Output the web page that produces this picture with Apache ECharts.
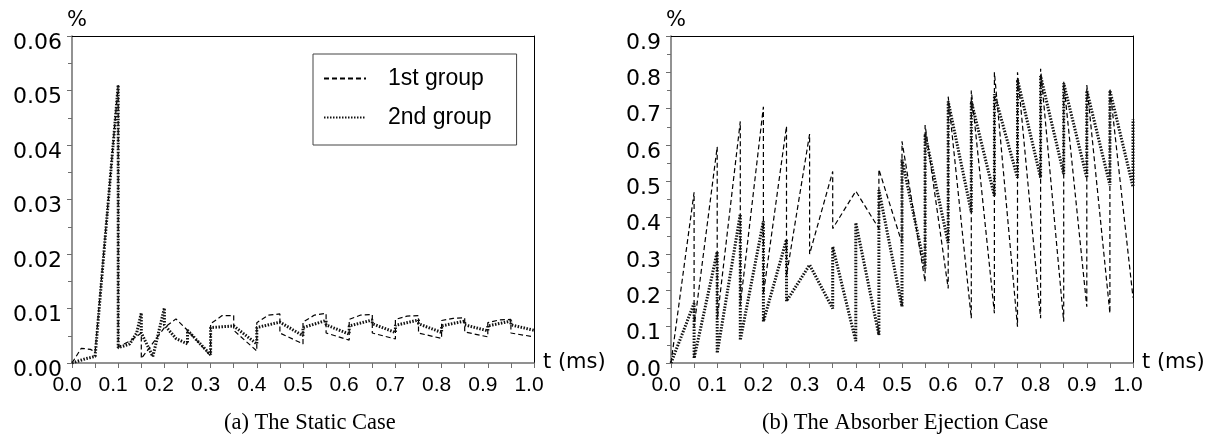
<!DOCTYPE html>
<html>
<head>
<meta charset="utf-8">
<script src="https://cdn.jsdelivr.net/npm/echarts@6/dist/echarts.min.js"></script>
<style>html,body{margin:0;padding:0;background:#fff;}#c{width:1215px;height:440px;}</style>
</head>
<body>
<div id="c"></div>
<script>
// ---- data ----
const xTicks = [0, 0.1, 0.2, 0.3, 0.4, 0.5, 0.6, 0.7, 0.8, 0.9, 1.0];
const seriesNames = ['1st group', '2nd group'];
const captions = ['(a) The Static Case', '(b) The Absorber Ejection Case'];

// (a) static case, 1st group (dashed)
const staticT1 = [0, 0.02, 0.04, 0.05, 0.1, 0.1, 0.125, 0.15, 0.15, 0.2, 0.225, 0.25, 0.3, 0.3, 0.325, 0.35, 0.35, 0.4, 0.4, 0.425, 0.45, 0.45, 0.5, 0.5, 0.525, 0.55, 0.55, 0.6, 0.6, 0.625, 0.65, 0.65, 0.7, 0.7, 0.725, 0.75, 0.75, 0.8, 0.8, 0.825, 0.85, 0.85, 0.9, 0.9, 0.925, 0.95, 0.95, 1.0];
const staticV1 = [0, 0.0027, 0.0025, 0.002, 0.051, 0.003, 0.004, 0.0055, 0.0008, 0.0065, 0.0081, 0.006, 0.0013, 0.0072, 0.0087, 0.0087, 0.006, 0.0022, 0.0074, 0.0088, 0.009, 0.0055, 0.0035, 0.0075, 0.0088, 0.0091, 0.0055, 0.0042, 0.008, 0.0088, 0.0089, 0.0055, 0.0044, 0.008, 0.0086, 0.0087, 0.0055, 0.0045, 0.0078, 0.0082, 0.0083, 0.0057, 0.0048, 0.0074, 0.0079, 0.008, 0.0055, 0.0048];
// (a) static case, 2nd group (dotted)
const staticT2 = [0, 0.03, 0.05, 0.1, 0.1, 0.125, 0.14, 0.15, 0.15, 0.175, 0.2, 0.2, 0.225, 0.25, 0.25, 0.3, 0.3, 0.35, 0.4, 0.4, 0.45, 0.5, 0.5, 0.55, 0.55, 0.6, 0.6, 0.65, 0.65, 0.7, 0.7, 0.75, 0.75, 0.8, 0.8, 0.85, 0.85, 0.9, 0.9, 0.95, 0.95, 1.0];
const staticV2 = [0, 0.0008, 0.0012, 0.051, 0.0028, 0.0035, 0.0055, 0.0092, 0.0055, 0.0012, 0.0101, 0.007, 0.0045, 0.0035, 0.006, 0.0015, 0.0065, 0.0068, 0.0035, 0.0065, 0.0075, 0.005, 0.0065, 0.0078, 0.007, 0.0053, 0.0068, 0.0079, 0.0072, 0.0056, 0.0069, 0.0079, 0.0072, 0.0056, 0.0068, 0.0077, 0.007, 0.0059, 0.0068, 0.0077, 0.007, 0.006];

// (b) absorber ejection case, 1st group (dashed)
const ejectT1 = [0, 0.05, 0.05, 0.1, 0.1, 0.15, 0.15, 0.2, 0.2, 0.25, 0.25, 0.3, 0.3, 0.35, 0.35, 0.4, 0.45, 0.45, 0.5, 0.5, 0.55, 0.55, 0.6, 0.6, 0.65, 0.65, 0.7, 0.7, 0.75, 0.75, 0.8, 0.8, 0.85, 0.85, 0.9, 0.9, 0.95, 0.95, 1.0];
const ejectV1 = [0, 0.47, 0.10, 0.595, 0.12, 0.665, 0.16, 0.705, 0.19, 0.652, 0.24, 0.63, 0.30, 0.527, 0.37, 0.473, 0.37, 0.533, 0.33, 0.61, 0.224, 0.655, 0.205, 0.733, 0.123, 0.75, 0.137, 0.80, 0.10, 0.80, 0.123, 0.81, 0.114, 0.774, 0.155, 0.765, 0.137, 0.756, 0.18];
// (b) absorber ejection case, 2nd group (dotted)
const ejectT2 = [0, 0.05, 0.05, 0.1, 0.1, 0.15, 0.15, 0.2, 0.2, 0.25, 0.25, 0.3, 0.35, 0.35, 0.4, 0.4, 0.45, 0.45, 0.5, 0.5, 0.55, 0.55, 0.6, 0.6, 0.65, 0.65, 0.7, 0.7, 0.75, 0.75, 0.8, 0.8, 0.85, 0.85, 0.9, 0.9, 0.95, 0.95, 1.0, 1.0];
const ejectV2 = [0, 0.164, 0.013, 0.306, 0.027, 0.41, 0.063, 0.39, 0.114, 0.34, 0.17, 0.27, 0.15, 0.32, 0.06, 0.386, 0.077, 0.476, 0.155, 0.56, 0.26, 0.63, 0.33, 0.72, 0.415, 0.72, 0.46, 0.74, 0.51, 0.78, 0.51, 0.79, 0.52, 0.77, 0.51, 0.75, 0.49, 0.75, 0.485, 0.67];

// ---- build ----
const zip = (t, v) => t.map((x, i) => [x, v[i]]);
const FONT = 'Liberation Sans, Arial, sans-serif';
const WIDE = 'DejaVu Sans, Verdana, sans-serif';
const AXIS_GREY = '#6e6e6e';

function bottomX(grid) {
  return {
    type: 'value', gridIndex: grid, min: 0, max: 1, interval: 0.1,
    name: 't (ms)', nameLocation: 'end', nameGap: 9,
    nameTextStyle: {fontSize: 21, fontFamily: WIDE, color: '#000', verticalAlign: 'middle'},
    axisLine: {show: true, onZero: false, lineStyle: {color: AXIS_GREY, width: 1.5}},
    axisTick: {show: true, length: 5, lineStyle: {color: AXIS_GREY, width: 1}},
    minorTick: {show: true, splitNumber: 2, length: 5, lineStyle: {color: AXIS_GREY, width: 1}},
    splitLine: {show: false},
    axisLabel: {fontSize: 21, fontFamily: FONT, color: '#000', margin: 12, padding: [0, 10, 0, 0],
      formatter: v => v.toFixed(1)}
  };
}
function topX(grid) {
  return {type: 'value', gridIndex: grid, min: 0, max: 1, position: 'top',
    axisLine: {show: true, onZero: false, lineStyle: {color: '#000', width: 1}},
    axisTick: {show: false}, axisLabel: {show: false}, splitLine: {show: false}};
}
function leftY(grid, max, interval, dec) {
  return {
    type: 'value', gridIndex: grid, min: 0, max: max, interval: interval,
    name: '%', nameLocation: 'end', nameGap: 5,
    nameTextStyle: {fontSize: 21, fontFamily: WIDE, color: '#000', padding: [0, 0, 0, 10]},
    axisLine: {show: true, onZero: false, lineStyle: {color: AXIS_GREY, width: 1.5}},
    axisTick: {show: true, length: 5, lineStyle: {color: AXIS_GREY, width: 1}},
    minorTick: {show: true, splitNumber: 2, length: 4, lineStyle: {color: AXIS_GREY, width: 1}},
    splitLine: {show: false},
    axisLabel: {fontSize: 22, fontFamily: WIDE, color: '#000', margin: 10,
      verticalAlign: 'top', lineHeight: 14,
      formatter: v => v.toFixed(dec)}
  };
}
function rightY(grid, max) {
  return {type: 'value', gridIndex: grid, min: 0, max: max, position: 'right',
    axisLine: {show: true, onZero: false, lineStyle: {color: '#000', width: 1}},
    axisTick: {show: false}, axisLabel: {show: false}, splitLine: {show: false}};
}

const dashedStyle = {color: '#000', width: 1.2, type: [5, 3]};
const dottedStyle = {color: '#111', width: 3, type: [1.5, 1.5]};

function lineSeries(name, xi, data, style) {
  return {
    type: 'line', name: name, xAxisIndex: xi, yAxisIndex: xi, data: data,
    symbol: 'none', showSymbol: false, lineStyle: style, itemStyle: {color: '#000'},
    animation: false, silent: true
  };
}

const option = {
  backgroundColor: '#fff',
  animation: false,
  grid: [
    {left: 72, top: 36, width: 462, height: 327},
    {left: 671, top: 36, width: 462, height: 327}
  ],
  xAxis: [bottomX(0), bottomX(1), topX(0), topX(1)],
  yAxis: [leftY(0, 0.06, 0.01, 2), leftY(1, 0.9, 0.1, 1), rightY(0, 0.06), rightY(1, 0.9)],
  legend: {
    show: true, orient: 'vertical', left: 313, top: 54,
    data: seriesNames,
    padding: [13, 25, 16, 10], itemGap: 16, itemWidth: 42, itemHeight: 14,
    borderColor: '#444', borderWidth: 1, backgroundColor: '#fff',
    selectedMode: false,
    itemStyle: {opacity: 0, color: 'transparent', borderWidth: 0},
    textStyle: {fontSize: 23, fontFamily: FONT, color: '#000', padding: [0, 0, 0, 17]}
  },
  series: [
    lineSeries(seriesNames[0], 0, zip(staticT1, staticV1), dashedStyle),
    lineSeries(seriesNames[1], 0, zip(staticT2, staticV2), dottedStyle),
    lineSeries(seriesNames[0], 1, zip(ejectT1, ejectV1), dashedStyle),
    lineSeries(seriesNames[1], 1, zip(ejectT2, ejectV2), dottedStyle)
  ],
  graphic: [
    {type: 'text', left: 312 - 88, top: 412, style: {text: captions[0], fontSize: 22.5, fontFamily: 'Liberation Serif, Times New Roman, serif', fill: '#000'}},
    {type: 'text', left: 917 - 155, top: 412, style: {text: captions[1], fontSize: 22.5, fontFamily: 'Liberation Serif, Times New Roman, serif', fill: '#000'}}
  ]
};

const chart = echarts.init(document.getElementById('c'), null, {renderer: 'canvas'});
chart.setOption(option);
</script>
</body>
</html>
